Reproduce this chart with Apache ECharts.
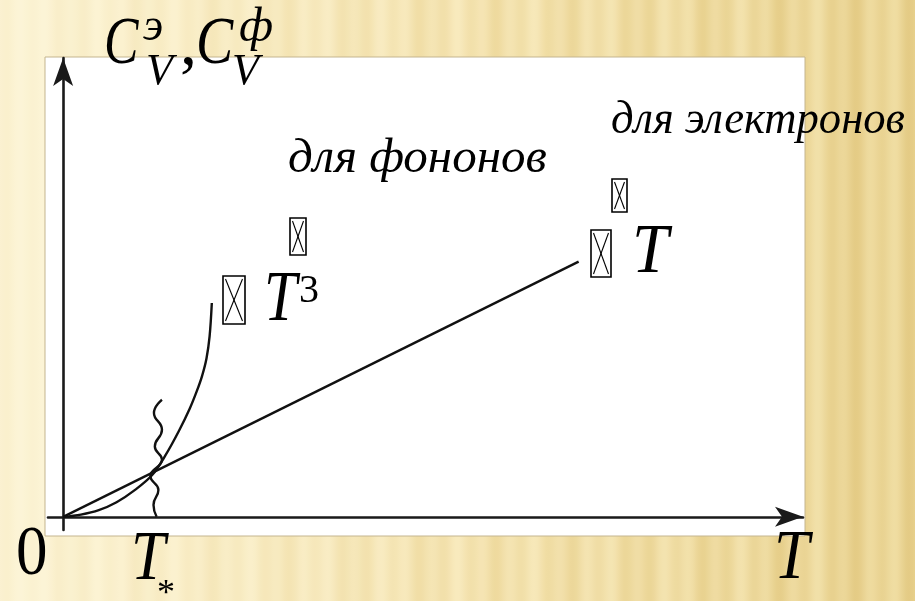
<!DOCTYPE html>
<html>
<head>
<meta charset="utf-8">
<script src="https://cdn.jsdelivr.net/npm/echarts@6/dist/echarts.min.js"></script>
<style>
  html, body { margin: 0; padding: 0; }
  #chart { width: 915px; height: 601px; }
</style>
</head>
<body>
<div id="chart"></div>
<script>
// Electron heat capacity: grows linearly with temperature
const electronT = [0, 5.79];
const electronC = [0, 5.80];

// Phonon heat capacity: steep, ~T^3 growth
const phononT = [0, 0.2, 0.4, 0.6, 0.8, 1.0, 1.15, 1.3, 1.42, 1.5, 1.56, 1.61, 1.645, 1.67];
const phononC = [0, 0.05, 0.15, 0.33, 0.6, 0.95, 1.4, 1.95, 2.45, 2.85, 3.2, 3.6, 4.1, 4.86];

// Wavy marker at the crossover temperature T*
const waveT = [1.11, 1.02, 1.11, 1.03, 1.11, 0.98, 1.07, 1.015, 1.05];
const waveC = [2.66, 2.36, 1.98, 1.60, 1.30, 0.92, 0.61, 0.27, 0.0];

// Axis extents (the axes run a little past the origin)
const tRange = [-0.17, 8.31];
const cRange = [-0.3, 10.43];

const pair = (xs, ys) => xs.map((x, i) => [x, ys[i]]);

// Striped golden backdrop
function stripeStops() {
  const light = [[253, 246, 218], [248, 234, 190], [240, 222, 163]];
  const dark = [[246, 232, 190], [236, 214, 150], [226, 200, 128]];
  const mix = (a, b, t) => a.map((v, i) => v + (b[i] - v) * t);
  const along = (arr, t) => t < 0.5 ? mix(arr[0], arr[1], t * 2) : mix(arr[1], arr[2], (t - 0.5) * 2);
  const stops = [];
  const W = 915;
  for (let x = 0; x <= W; x += 3) {
    const t = x / W;
    const s = 0.5 + 0.5 * (Math.sin(x / 4.1) * 0.55 + Math.sin(x / 11.3 + 1.7) * 0.45);
    const c = mix(along(light, t), along(dark, t), s * (0.45 + 0.55 * t)).map(Math.round);
    stops.push({ offset: t, color: 'rgb(' + c.join(',') + ')' });
  }
  return stops;
}

function label(text, x, y, size, italic, sx) {
  return {
    type: 'text', x: x, y: y, z: 100, scaleX: sx || 1,
    style: {
      text: text,
      fontFamily: 'Liberation Serif',
      fontStyle: italic ? 'italic' : 'normal',
      fontSize: size,
      fill: '#000',
      align: 'left',
      verticalAlign: 'middle'
    }
  };
}
// Missing-glyph box (rectangle with a cross)
function glyphBox(x, y, w, h) {
  const ln = { stroke: '#000', lineWidth: 1.1 };
  return {
    type: 'group', x: x, y: y, z: 100,
    children: [
      { type: 'rect', shape: { x: 0, y: 0, width: w, height: h }, style: { fill: 'none', stroke: '#000', lineWidth: 1.6 } },
      { type: 'line', shape: { x1: 2.5, y1: 3, x2: w - 2.5, y2: h - 3 }, style: ln },
      { type: 'line', shape: { x1: w - 2.5, y1: 3, x2: 2.5, y2: h - 3 }, style: ln }
    ]
  };
}

const chart = echarts.init(document.getElementById('chart'), null, { renderer: 'canvas' });

const axisLineStyle = { color: '#1a1a1a', width: 2.6 };

chart.setOption({
  animation: false,
  backgroundColor: new echarts.graphic.LinearGradient(0, 0, 1, 0, stripeStops()),
  grid: { left: 48, right: 112, top: 58, bottom: 71 },
  xAxis: {
    type: 'value', min: tRange[0], max: tRange[1],
    axisLine: { show: true, onZero: true, symbol: ['none', 'arrow'], symbolSize: [15, 28], lineStyle: axisLineStyle },
    axisTick: { show: false }, axisLabel: { show: false }, splitLine: { show: false }
  },
  yAxis: {
    type: 'value', min: cRange[0], max: cRange[1],
    axisLine: { show: true, onZero: true, symbol: ['none', 'arrow'], symbolSize: [15, 28], lineStyle: axisLineStyle },
    axisTick: { show: false }, axisLabel: { show: false }, splitLine: { show: false }
  },
  series: [
    {
      name: 'electrons', type: 'line', data: pair(electronT, electronC),
      symbol: 'none', lineStyle: { color: '#111', width: 2.4 }, z: 5
    },
    {
      name: 'phonons', type: 'line', data: pair(phononT, phononC),
      smooth: 0.35,
      symbol: 'none', lineStyle: { color: '#111', width: 2.4 }, z: 5
    },
    {
      name: 'crossover', type: 'line', data: pair(waveT, waveC), smooth: 0.5,
      symbol: 'none', lineStyle: { color: '#111', width: 2.4 }, z: 5
    }
  ],
  graphic: [
    // white plotting sheet
    {
      type: 'rect', z: -1,
      shape: { x: 45, y: 57, width: 760, height: 479 },
      style: { fill: '#ffffff', stroke: '#c4b58f', lineWidth: 1 }
    },
    // axis title C_V^э, C_V^ф
    label('C', 104, 45, 68, true, 0.76),
    label('э', 143, 28, 46, true),
    label('V', 146, 72, 44, true),
    label(',', 180, 46, 68, false),
    label('C', 196, 45, 68, true, 0.82),
    label('ф', 239, 28, 48, true),
    label('V', 232, 72, 44, true),
    // T axis marks
    label('0', 16, 556, 70, false, 0.9),
    label('T', 131, 561, 70, true, 0.88),
    label('*', 157, 595, 36, false),
    label('T', 774, 560, 69, true, 0.92),
    // curve annotations
    label('для фононов', 288, 159, 49, true),
    label('для электронов', 611, 121, 47, true, 0.95),
    glyphBox(290, 218, 16, 37),
    glyphBox(223, 276, 22, 48),
    label('T', 264, 301, 72, true, 0.82),
    label('3', 299, 291, 40, false),
    glyphBox(612, 179, 15, 33),
    glyphBox(591, 230, 20, 47),
    label('T', 632, 254, 69, true, 0.95)
  ]
});
</script>
</body>
</html>
